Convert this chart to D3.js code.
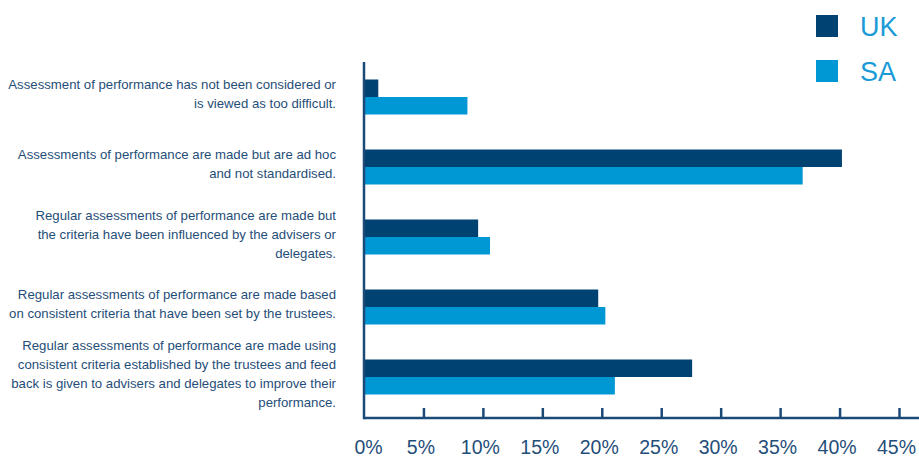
<!DOCTYPE html>
<html>
<head>
<meta charset="utf-8">
<script src="https://cdn.jsdelivr.net/npm/d3@7/dist/d3.min.js"></script>
<style>
  html, body { margin: 0; padding: 0; background: #ffffff; }
  svg { display: block; }
  text { font-family: "Liberation Sans", Arial, sans-serif; }
</style>
</head>
<body>
<svg id="chart" width="919" height="459"></svg>
<script>
// Survey responses: how trustees assess the performance of advisers and delegates
const categories = [
  ["Assessment of performance has not been considered or", "is viewed as too difficult."],
  ["Assessments of performance are made but are ad hoc", "and not standardised."],
  ["Regular assessments of performance are made but", "the criteria have been influenced by the advisers or", "delegates."],
  ["Regular assessments of performance are made based", "on consistent criteria that have been set by the trustees."],
  ["Regular assessments of performance are made using", "consistent criteria established by the trustees and feed", "back is given to advisers and delegates to improve their", "performance."]
];
const seriesNames = ["UK", "SA"];
const ukValues = [0.012, 0.402, 0.096, 0.197, 0.276];
const saValues = [0.087, 0.369, 0.106, 0.203, 0.211];
const tickValues = [0, 0.05, 0.10, 0.15, 0.20, 0.25, 0.30, 0.35, 0.40, 0.45];

const colors = { UK: "#004272", SA: "#0098d4" };
const axisColor = "#1b4a78";
const labelColor = "#1f4e79";

const svg = d3.select("#chart");
const W = 919, H = 459;
const plot = { left: 364, right: 899, top: 62, bottom: 418 };

const x = d3.scaleLinear().domain([0, 0.45]).range([plot.left, plot.right]);
const y = d3.scaleBand()
  .domain(d3.range(categories.length))
  .range([plot.top, plot.bottom - 6])
  .paddingInner(0.5)
  .paddingOuter(0.25);
const sub = d3.scaleBand().domain(seriesNames).range([0, y.bandwidth()]);

const rows = categories.map((c, i) => ({ i, lines: c, UK: ukValues[i], SA: saValues[i] }));

// Bars
const groups = svg.append("g").selectAll("g")
  .data(rows).join("g")
  .attr("transform", d => `translate(0,${y(d.i)})`);

groups.selectAll("rect")
  .data(d => seriesNames.map(s => ({ s, v: d[s] })))
  .join("rect")
  .attr("x", x(0))
  .attr("y", d => sub(d.s))
  .attr("width", d => x(d.v) - x(0))
  .attr("height", sub.bandwidth())
  .attr("fill", d => colors[d.s]);

// Category labels, right-aligned beside the vertical axis
const lineH = 19;
svg.append("g").selectAll("text")
  .data(rows).join("text")
  .attr("text-anchor", "end")
  .attr("font-size", 13.2)
  .attr("fill", labelColor)
  .each(function (d) {
    const cy = y(d.i) + y.bandwidth() / 2 - 3;
    const n = d.lines.length;
    d3.select(this).selectAll("tspan")
      .data(d.lines).join("tspan")
      .attr("x", 336)
      .attr("y", (t, k) => cy + (k - (n - 1) / 2) * lineH)
      .attr("dy", "0.35em")
      .text(t => t);
  });

// Value axis along the bottom, ticks pointing up into the plot
const xAxis = d3.axisBottom(x)
  .tickValues(tickValues)
  .tickSize(-10)
  .tickSizeOuter(0)
  .tickFormat(d3.format(".0%"));

const gx = svg.append("g")
  .attr("transform", `translate(0,${plot.bottom})`)
  .call(xAxis);
gx.select(".domain").remove();
gx.selectAll(".tick line")
  .attr("stroke", axisColor)
  .attr("stroke-width", 2.5)
  .filter(d => d === 0).remove();
gx.selectAll(".tick text")
  .attr("y", 36)
  .attr("dy", 0)
  .attr("dx", -3)
  .attr("font-size", 19.5)
  .attr("font-family", "Liberation Sans, Arial, sans-serif")
  .attr("fill", labelColor);
gx.selectAll(".tick").filter(d => d === 0).select("text").attr("dx", 4);

// Axis lines
svg.append("line")
  .attr("x1", x(0)).attr("x2", W)
  .attr("y1", plot.bottom).attr("y2", plot.bottom)
  .attr("stroke", axisColor).attr("stroke-width", 2.5);
svg.append("line")
  .attr("x1", x(0)).attr("x2", x(0))
  .attr("y1", plot.top).attr("y2", plot.bottom + 1.25)
  .attr("stroke", axisColor).attr("stroke-width", 2.5);

// Legend
const legend = svg.append("g").selectAll("g")
  .data(seriesNames).join("g")
  .attr("transform", (d, i) => `translate(816,${15 + i * 45})`);
legend.append("rect")
  .attr("width", 22).attr("height", 22)
  .attr("fill", d => colors[d]);
legend.append("text")
  .attr("x", 44).attr("y", 21)
  .attr("font-size", 27)
  .attr("fill", "#1a9ad6")
  .text(d => d);
</script>
</body>
</html>
